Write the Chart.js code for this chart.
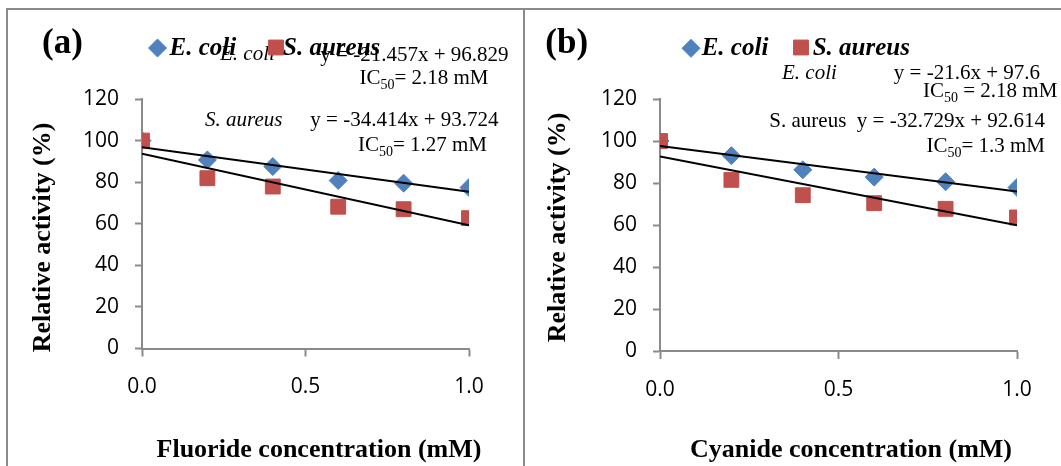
<!DOCTYPE html>
<html>
<head>
<meta charset="utf-8">
<script src="https://cdn.jsdelivr.net/npm/chart.js"></script>
<style>
  body { margin: 0; background: #fff; }
  #wrap { position: relative; width: 1061px; height: 466px; overflow: hidden; background: #fff; }
  .frame { position: absolute; background: #8a8a8a; }
  canvas { position: absolute; top: 0; }
</style>
</head>
<body>
<div id="wrap">
  <div class="frame" style="left:6px;top:8px;width:1055px;height:2px"></div>
  <div class="frame" style="left:6px;top:8px;width:2px;height:458px"></div>
  <div class="frame" style="left:523px;top:8px;width:2px;height:458px"></div>
  <canvas id="chartFluoride" width="523" height="466" style="left:0"></canvas>
  <canvas id="chartCyanide" width="534" height="466" style="left:527px"></canvas>
</div>
<script>
// concentration (mM) and relative activity (%)
const concentrations = [0, 0.2, 0.4, 0.6, 0.8, 1.0];
const fluorideEcoli = [100, 90.7, 87.5, 80.8, 79.5, 77.4];
const fluorideSaureus = [100, 81.9, 77.9, 68.2, 67.0, 62.7];
const cyanideEcoli = [100, 93.0, 86.3, 82.8, 80.6, 77.9];
const cyanideSaureus = [100, 81.5, 74.2, 70.4, 67.7, 63.6];

// linear trendlines y = slope * x + intercept, [E. coli, S. aureus]
const fluorideSlopes = [-21.457, -34.414];
const fluorideIntercepts = [96.829, 93.724];
const cyanideSlopes = [-21.6, -32.729];
const cyanideIntercepts = [97.6, 92.614];

const xTicks = [0, 0.5, 1.0];
const yTicks = [0, 20, 40, 60, 80, 100, 120];
const seriesNames = ['E. coli', 'S. aureus'];

const BLUE = '#4F81BD';
const RED = '#C0504D';
const AXIS = '#8a8a8a';
const SERIF = '"Liberation Serif", "Times New Roman", serif';
const EQ = '21px ' + SERIF;
const EQ_IT = 'italic 21px ' + SERIF;
const SUB = '14px ' + SERIF;
const LEG = 'italic bold 25px ' + SERIF;
const TITLE = 'bold 26px ' + SERIF;
const LABEL = 'bold 35px ' + SERIF;

function ic50(rest) {
    return [{ text: 'IC', font: EQ }, { text: '50', font: SUB, dy: 5 }, { text: rest, font: EQ }];
}

const panelText = {
    id: 'panelText',
    afterDraw(chart, args, opts) {
        const ctx = chart.ctx;
        ctx.save();
        ctx.textBaseline = 'alphabetic';
        (opts.items || []).forEach(item => {
            if (item.marker !== undefined) {
                const ds = chart.data.datasets[item.marker];
                ctx.fillStyle = ds.backgroundColor;
                ctx.strokeStyle = ds.borderColor;
                ctx.lineWidth = ds.pointBorderWidth;
                Chart.helpers.drawPoint(ctx, {
                    pointStyle: ds.pointStyle, radius: ds.pointRadius,
                    borderWidth: ds.pointBorderWidth, rotation: 0
                }, item.x, item.y);
                return;
            }
            ctx.fillStyle = '#000';
            const runs = item.runs || [{ text: item.text, font: item.font }];
            let w = 0;
            runs.forEach(r => { ctx.font = r.font; w += ctx.measureText(r.text).width; });
            ctx.save();
            ctx.translate(item.x, item.y);
            if (item.rotate) ctx.rotate(item.rotate);
            let cx = item.align === 'right' ? -w : item.align === 'center' ? -w / 2 : 0;
            runs.forEach(r => {
                ctx.font = r.font;
                ctx.textAlign = 'left';
                ctx.fillText(r.text, cx, r.dy || 0);
                cx += ctx.measureText(r.text).width;
            });
            ctx.restore();
        });
        ctx.restore();
    }
};

function buildDatasets(ecoli, saureus, slopes, intercepts) {
    const x0 = concentrations[0];
    const x1 = concentrations[concentrations.length - 1];
    const fit = i => [
        { x: x0, y: slopes[i] * x0 + intercepts[i] },
        { x: x1, y: slopes[i] * x1 + intercepts[i] }
    ];
    const pts = arr => concentrations.map((c, i) => ({ x: c, y: arr[i] }));
    return [
        { label: seriesNames[0] + ' fit', data: fit(0), showLine: true, borderColor: '#000', borderWidth: 2, pointRadius: 0, order: 0 },
        { label: seriesNames[1] + ' fit', data: fit(1), showLine: true, borderColor: '#000', borderWidth: 2, pointRadius: 0, order: 0 },
        { label: seriesNames[0], data: pts(ecoli), pointStyle: 'rectRot', pointRadius: 9, pointBorderWidth: 1,
          backgroundColor: BLUE, borderColor: BLUE, order: 2 },
        { label: seriesNames[1], data: pts(saureus), pointStyle: 'rect', pointRadius: 10.5, pointBorderWidth: 1,
          backgroundColor: RED, borderColor: RED, order: 1 }
    ];
}

function buildChart(id, datasets, frame, items) {
    return new Chart(document.getElementById(id), {
        type: 'scatter',
        data: { datasets },
        options: {
            responsive: false,
            animation: false,
            devicePixelRatio: 1,
            events: [],
            layout: { padding: { top: frame.top, right: frame.right, left: 0, bottom: 0 } },
            plugins: {
                legend: { display: false },
                tooltip: { enabled: false },
                panelText: { items }
            },
            scales: {
                x: {
                    type: 'linear', min: 0, max: 1,
                    afterBuildTicks: s => { s.ticks = xTicks.map(v => ({ value: v })); },
                    afterFit: s => { s.height = frame.xHeight; },
                    grid: { drawOnChartArea: false, tickLength: 8, tickColor: AXIS, tickWidth: 2 },
                    border: { color: AXIS, width: 2 },
                    ticks: { padding: 18, color: '#000', maxRotation: 0,
                             font: { family: '"Open Sans"', size: 21 },
                             callback: v => Number(v).toFixed(1) }
                },
                y: {
                    min: 0, max: 120,
                    afterBuildTicks: s => { s.ticks = yTicks.map(v => ({ value: v })); },
                    afterFit: s => { s.width = frame.yWidth; },
                    grid: { drawOnChartArea: false, tickLength: 7, tickColor: AXIS, tickWidth: 2 },
                    border: { color: AXIS, width: 2 },
                    ticks: { padding: 16, color: '#000', font: { family: '"Open Sans"', size: 21 } }
                }
            }
        },
        plugins: [panelText]
    });
}

window.chartFluoride = buildChart('chartFluoride',
    buildDatasets(fluorideEcoli, fluorideSaureus, fluorideSlopes, fluorideIntercepts),
    { top: 99, right: 54, yWidth: 142, xHeight: 117.5 },
    [
        { text: 'E. coli', font: EQ_IT, x: 220, y: 59.5 },
        { text: 'y = -21.457x + 96.829', font: EQ, x: 508.5, y: 60.5, align: 'right' },
        { runs: ic50('= 2.18 mM'), x: 488.5, y: 84, align: 'right' },
        { text: 'S. aureus', font: EQ_IT, x: 205, y: 126 },
        { text: 'y = -34.414x + 93.724', font: EQ, x: 498.5, y: 126, align: 'right' },
        { runs: ic50('= 1.27 mM'), x: 487, y: 150.5, align: 'right' },
        { marker: 2, x: 157.5, y: 48 },
        { text: 'E. coli', font: LEG, x: 169.5, y: 55 },
        { marker: 3, x: 276, y: 47.5 },
        { text: 'S. aureus', font: LEG, x: 283, y: 55 },
        { text: '(a)', font: LABEL, x: 62.5, y: 53, align: 'center' },
        { text: 'Relative activity (%)', font: TITLE, x: 49.5, y: 237.5, align: 'center', rotate: -Math.PI / 2 },
        { text: 'Fluoride concentration (mM)', font: TITLE, x: 319, y: 456.5, align: 'center' }
    ]);

window.chartCyanide = buildChart('chartCyanide',
    buildDatasets(cyanideEcoli, cyanideSaureus, cyanideSlopes, cyanideIntercepts),
    { top: 99, right: 44, yWidth: 133, xHeight: 115 },
    [
        { text: 'E. coli', font: EQ_IT, x: 255, y: 79 },
        { text: 'y = -21.6x + 97.6', font: EQ, x: 513, y: 79, align: 'right' },
        { runs: ic50(' = 2.18 mM'), x: 396, y: 96.5 },
        { text: 'S. aureus  y = -32.729x + 92.614', font: EQ, x: 518, y: 126.5, align: 'right' },
        { runs: ic50('= 1.3 mM'), x: 518, y: 151.5, align: 'right' },
        { marker: 2, x: 164, y: 48.3 },
        { text: 'E. coli', font: LEG, x: 174.7, y: 55 },
        { marker: 3, x: 274, y: 47.5 },
        { text: 'S. aureus', font: LEG, x: 285.7, y: 55 },
        { text: '(b)', font: LABEL, x: 39.7, y: 53, align: 'center' },
        { text: 'Relative activity (%)', font: TITLE, x: 38, y: 227.5, align: 'center', rotate: -Math.PI / 2 },
        { text: 'Cyanide concentration (mM)', font: TITLE, x: 324, y: 456.5, align: 'center' }
    ]);
</script>
</body>
</html>
